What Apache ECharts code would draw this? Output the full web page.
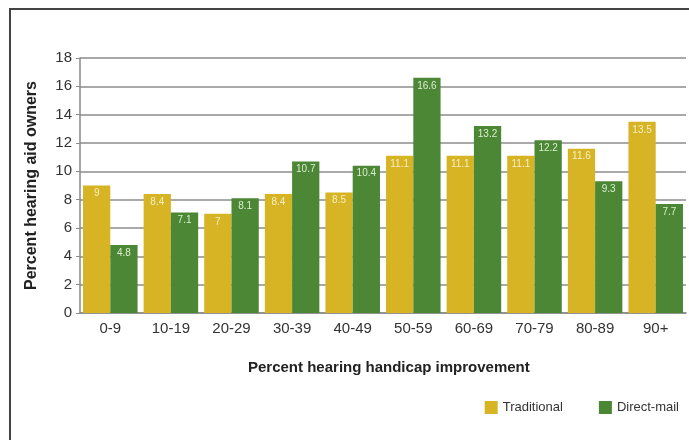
<!DOCTYPE html>
<html>
<head>
<meta charset="utf-8">
<script src="https://cdn.jsdelivr.net/npm/echarts@6/dist/echarts.min.js"></script>
<style>
  html, body { margin: 0; padding: 0; background: #fff; }
  #chart { width: 689px; height: 440px; }
</style>
</head>
<body>
<div id="chart"></div>
<script>
// Share of hearing aid owners by hearing handicap improvement band
const categories = ['0-9', '10-19', '20-29', '30-39', '40-49', '50-59', '60-69', '70-79', '80-89', '90+'];
const traditional = [9, 8.4, 7, 8.4, 8.5, 11.1, 11.1, 11.1, 11.6, 13.5];
const directMail = [4.8, 7.1, 8.1, 10.7, 10.4, 16.6, 13.2, 12.2, 9.3, 7.7];
const yTicks = { min: 0, max: 18, interval: 2 };

const FONT = '"Liberation Sans", Arial, sans-serif';
const YELLOW = '#d6b424';
const GREEN = '#4b8734';

const chart = echarts.init(document.getElementById('chart'), null, { renderer: 'canvas' });

function barLabel(color) {
  return {
    show: true,
    position: 'insideTop',
    distance: 3,
    color: color,
    fontFamily: FONT,
    fontSize: 10
  };
}

chart.setOption({
  animation: false,
  backgroundColor: '#fff',
  grid: { left: 80, right: 3, top: 58, bottom: 127, containLabel: false },
  legend: {
    right: 5,
    top: 396,
    itemWidth: 13,
    itemHeight: 13,
    itemGap: 36,
    icon: 'rect',
    textStyle: { fontFamily: FONT, fontSize: 13, color: '#333' },
    data: ['Traditional', 'Direct-mail']
  },
  xAxis: {
    type: 'category',
    data: categories,
    axisLine: { lineStyle: { color: '#8a8a8a', width: 1.5 } },
    axisTick: { show: false },
    axisLabel: { fontFamily: FONT, fontSize: 15, color: '#333', margin: 8 }
  },
  yAxis: {
    type: 'value',
    min: yTicks.min,
    max: yTicks.max,
    interval: yTicks.interval,
    name: 'Percent hearing aid owners',
    nameLocation: 'middle',
    nameGap: 40,
    nameTextStyle: { fontFamily: FONT, fontSize: 16, fontWeight: 'bold', color: '#222' },
    axisLine: { show: true, lineStyle: { color: '#8a8a8a', width: 1.5 } },
    axisTick: { show: true, length: 4, lineStyle: { color: '#8a8a8a' } },
    axisLabel: { fontFamily: FONT, fontSize: 15, color: '#333', margin: 8 },
    splitLine: { lineStyle: { color: '#8c8c8c', width: 1.6 } }
  },
  series: [
    {
      name: 'Traditional',
      type: 'bar',
      data: traditional,
      barGap: '0%',
      barCategoryGap: '10%',
      itemStyle: { color: YELLOW },
      label: barLabel('#f6eec4')
    },
    {
      name: 'Direct-mail',
      type: 'bar',
      data: directMail,
      itemStyle: { color: GREEN },
      label: barLabel('#dcedd0')
    }
  ],
  graphic: [
    {
      type: 'polyline',
      shape: { points: [[10, 440], [10, 9], [689, 9]] },
      style: { stroke: '#444', lineWidth: 2, fill: null }
    },
    {
      type: 'text',
      left: 248,
      top: 360,
      style: {
        text: 'Percent hearing handicap improvement',
        fontFamily: FONT,
        fontSize: 15,
        fontWeight: 'bold',
        fill: '#222'
      }
    }
  ]
});
</script>
</body>
</html>
